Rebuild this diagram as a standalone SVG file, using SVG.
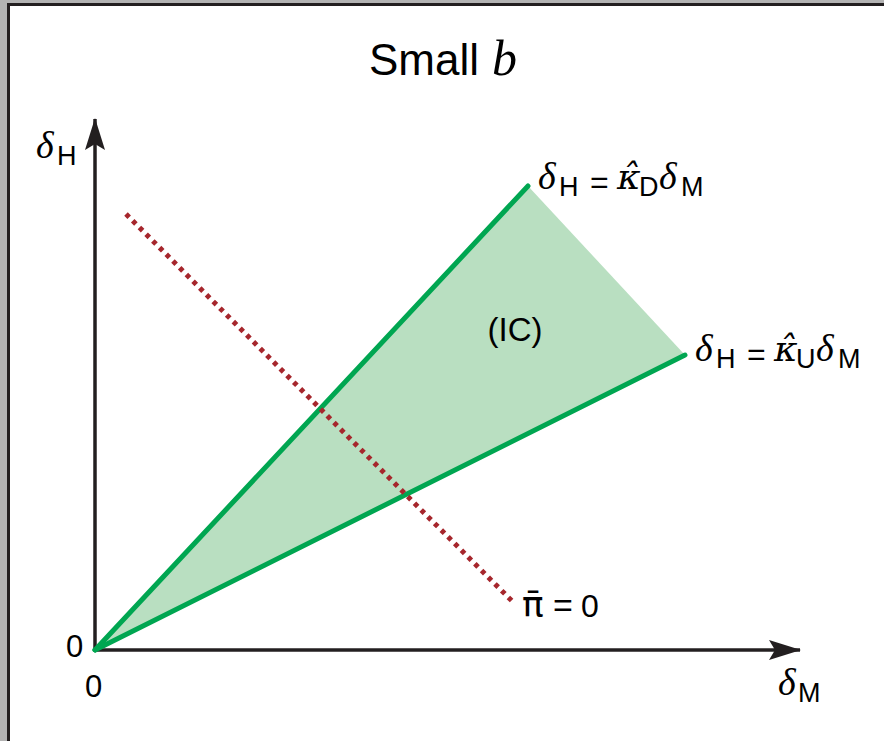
<svg xmlns="http://www.w3.org/2000/svg" width="884" height="741" viewBox="0 0 884 741">
<defs>
<style>
.sans{font-family:"Liberation Sans",Arial,sans-serif;fill:#000}
.ser{font-family:"Liberation Serif","DejaVu Serif",serif;font-style:italic;fill:#000}
.dv{font-family:"DejaVu Serif",serif;font-style:italic;fill:#000}
.axis{stroke:#231f20;stroke-width:3.5;fill:none}
.green{stroke:#00a651;stroke-width:5;fill:none;stroke-linecap:round}
.big{font-size:38px}
.sub{font-size:27px}
.eq{font-size:32px}
</style>
<marker id="arr" viewBox="0 0 32 20" refX="31" refY="10" markerWidth="32" markerHeight="20" markerUnits="userSpaceOnUse" orient="auto">
<path d="M0,0 L32,10 L0,20 L6,10 Z" fill="#231f20"/>
</marker>
</defs>
<rect x="0" y="0" width="884" height="741" fill="#b3b3b3"/>
<rect x="8.5" y="4.5" width="880" height="740" fill="#ffffff" stroke="#231f20" stroke-width="3"/>
<g id="title">
<text x="369" y="75" class="sans" font-size="44">Small</text>
<text x="492" y="75" class="ser" font-size="50">b</text>
</g>
<g id="region-IC">
<polygon points="95,650 528,186 685,355" fill="#b9dfc1"/>
<text x="515" y="341" class="sans" font-size="33" text-anchor="middle">(IC)</text>
</g>
<g id="connectors">
<line id="x-axis" x1="95" y1="650" x2="800" y2="650" class="axis" marker-end="url(#arr)"/>
<line id="y-axis" x1="95" y1="650" x2="95" y2="119" class="axis" marker-end="url(#arr)"/>
<line id="kappaD" x1="95" y1="650" x2="528" y2="186" class="green"/>
<line id="kappaU" x1="95" y1="650" x2="685" y2="355" class="green"/>
<line id="pi-bar" x1="126" y1="214" x2="512" y2="601" stroke="#a6262c" stroke-width="5" stroke-dasharray="4.5 5"/>
</g>
<g id="label-y">
<text class="ser big" x="36" y="158">δ</text>
<text class="sans sub" x="57" y="165">H</text>
</g>
<g id="label-kD">
<text class="ser big" x="538" y="189">δ</text>
<text class="sans sub" x="559" y="196">H</text>
<text class="sans eq" x="590" y="193">=</text>
<text class="dv" font-size="36" x="617" y="189">κ̂</text>
<text class="sans sub" x="639" y="196">D</text>
<text class="ser big" x="659" y="189">δ</text>
<text class="sans sub" x="681" y="196">M</text>
</g>
<g id="label-kU">
<text class="ser big" x="695" y="361">δ</text>
<text class="sans sub" x="716" y="368">H</text>
<text class="sans eq" x="747" y="365">=</text>
<text class="dv" font-size="36" x="774" y="361">κ̂</text>
<text class="sans sub" x="796" y="368">U</text>
<text class="ser big" x="816" y="361">δ</text>
<text class="sans sub" x="838" y="368">M</text>
</g>
<g id="label-pi">
<text font-family="'DejaVu Sans',sans-serif" font-size="36" x="522" y="617">π̄</text>
<text class="sans" font-size="34" x="553" y="617">=</text>
<text class="sans" font-size="32" x="581" y="617">0</text>
</g>
<g id="label-origin">
<text x="66" y="657" class="sans" font-size="31">0</text>
<text x="85" y="697" class="sans" font-size="31">0</text>
</g>
<g id="label-x">
<text class="ser big" x="778" y="695">δ</text>
<text class="sans sub" x="798" y="702">M</text>
</g>
</svg>
